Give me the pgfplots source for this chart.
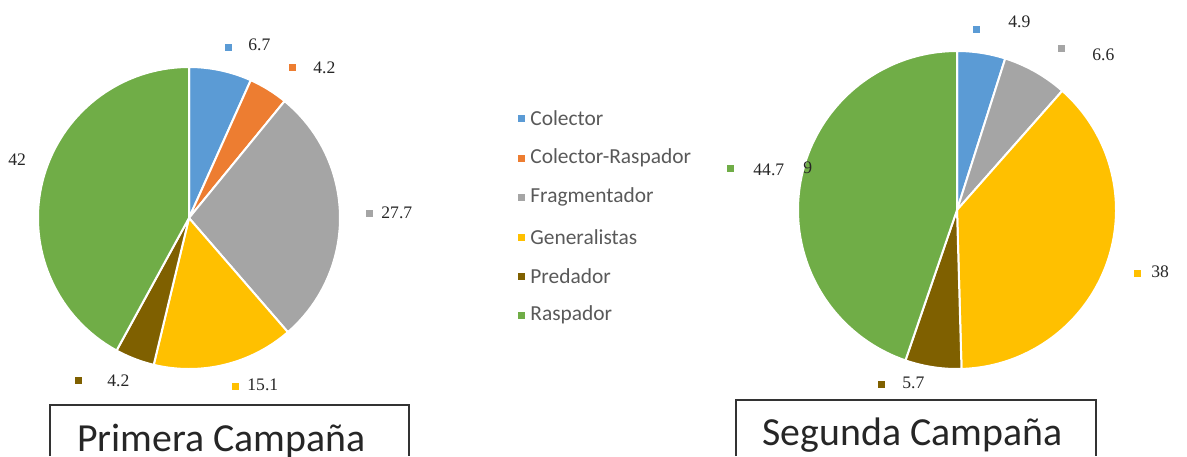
\documentclass[border=0pt]{standalone}
\usepackage{pgfplots}
\pgfplotsset{compat=1.18}
\usepackage{fontspec}
\setmainfont{Liberation Serif}
\newfontfamily\calfont{Carlito}
\definecolor{cCol}{HTML}{5B9BD5}
\definecolor{cCR}{HTML}{ED7D31}
\definecolor{cFrag}{HTML}{A5A5A5}
\definecolor{cGen}{HTML}{FFC000}
\definecolor{cPred}{HTML}{7F6000}
\definecolor{cRas}{HTML}{70AD47}
\definecolor{legtxt}{HTML}{595959}
\definecolor{ttl}{HTML}{262626}
% slice: cx, cy, r, value, colour ; angles run clockwise from 90 degrees
\newcommand\slice[5]{%
  \pgfmathsetmacro\aEnd{\aStart-360*#4/\pieTotal}%
  \edef\doslice{\noexpand\addplot[fill=#5, draw=white, line width=1pt,
      domain=\aEnd:\aStart, samples=90, variable=\noexpand\t]
      ({#1+#3*cos(\noexpand\t)},{#2+#3*sin(\noexpand\t)}) -- (axis cs:#1,#2) -- cycle;}%
  \doslice
  \global\let\aStart\aEnd
}
\begin{document}
\begin{tikzpicture}
\begin{axis}[scale only axis, width=593.5pt, height=228pt,
  xmin=0, xmax=1187, ymin=0, ymax=456, hide axis,
  mark size=1.5pt]
% ---- Primera Campaña
\gdef\aStart{90}\gdef\pieTotal{99.9}
\slice{189}{238}{151}{6.7}{cCol}
\slice{189}{238}{151}{4.2}{cCR}
\slice{189}{238}{151}{27.7}{cFrag}
\slice{189}{238}{151}{15.1}{cGen}
\slice{189}{238}{151}{4.2}{cPred}
\slice{189}{238}{151}{42}{cRas}
% ---- Segunda Campaña
\gdef\aStart{90}\gdef\pieTotal{99.9}
\slice{957}{246}{159}{4.9}{cCol}
\slice{957}{246}{159}{6.6}{cFrag}
\slice{957}{246}{159}{38}{cGen}
\slice{957}{246}{159}{5.7}{cPred}
\slice{957}{246}{159}{44.7}{cRas}
% ---- label markers
\addplot[only marks, mark=square*, color=cCol] coordinates {(228,409) (976,427) (521,338)};
\addplot[only marks, mark=square*, color=cCR] coordinates {(292,389) (521,298)};
\addplot[only marks, mark=square*, color=cFrag] coordinates {(369,243) (1061,408) (521,259)};
\addplot[only marks, mark=square*, color=cGen] coordinates {(235,70) (1137,183) (521,219)};
\addplot[only marks, mark=square*, color=cPred] coordinates {(78,76) (881,72) (521,180)};
\addplot[only marks, mark=square*, color=cRas] coordinates {(730,288) (521,141)};
% ---- data labels
\begin{scope}[every node/.style={anchor=west, font=\fontsize{8.8pt}{9pt}\selectfont, text=black!85, inner sep=0pt}]
\node at (axis cs:248,411) {6.7};
\node at (axis cs:313,388) {4.2};
\node at (axis cs:381,243) {27.7};
\node at (axis cs:247,71) {15.1};
\node at (axis cs:107,75) {4.2};
\node at (axis cs:8,296) {42};
\node at (axis cs:1008,434) {4.9};
\node at (axis cs:1092,401) {6.6};
\node at (axis cs:1151,184) {38};
\node at (axis cs:902,73) {5.7};
\node at (axis cs:753,286) {44.7};
\node at (axis cs:803,288) {9};
\end{scope}
% ---- legend text
\begin{scope}[every node/.style={anchor=west, font=\calfont\fontsize{10.7pt}{12pt}\selectfont, text=legtxt, inner sep=0pt}]
\node at (axis cs:530,338) {Colector};
\node at (axis cs:530,298) {Colector-Raspador};
\node at (axis cs:530,259) {Fragmentador};
\node at (axis cs:530,219) {Generalistas};
\node at (axis cs:530,180) {Predador};
\node at (axis cs:530,141) {Raspador};
\end{scope}
% ---- title boxes
\draw[line width=1pt, black!80] (axis cs:50,0) -- (axis cs:50,51) -- (axis cs:409,51) -- (axis cs:409,0);
\draw[line width=1pt, black!80] (axis cs:736,0) -- (axis cs:736,56) -- (axis cs:1096,56) -- (axis cs:1096,0);
\node[anchor=base, font=\calfont\fontsize{19.9pt}{22pt}\selectfont, text=ttl, inner sep=0pt] at (axis cs:221.5,5) {Primera Campaña};
\node[anchor=base, font=\calfont\fontsize{19.9pt}{22pt}\selectfont, text=ttl, inner sep=0pt] at (axis cs:912.5,11) {Segunda Campaña};
\end{axis}
\pgfresetboundingbox
\path (current axis.south west) rectangle (current axis.north east);
\end{tikzpicture}
\end{document}
